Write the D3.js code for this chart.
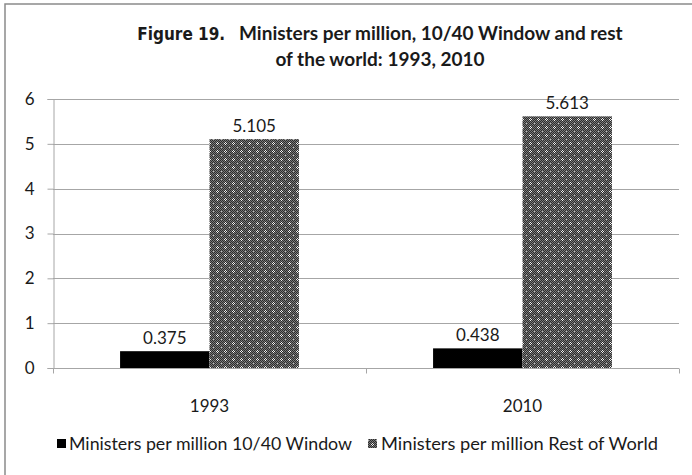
<!DOCTYPE html>
<html>
<head>
<meta charset="utf-8">
<script src="https://cdn.jsdelivr.net/npm/d3@7"></script>
<style>
  html, body { margin: 0; padding: 0; background: #fff; }
  svg { display: block; }
  text { font-family: Lato, "Open Sans", sans-serif; fill: #1a1a1a; }
</style>
</head>
<body>
<svg id="chart" width="692" height="475"></svg>
<script>
// Ministers per million: 10/40 Window vs rest of the world
const years = ["1993", "2010"];
const seriesNames = ["Ministers per million 10/40 Window", "Ministers per million Rest of World"];
const window1040 = [0.375, 0.438];
const restOfWorld = [5.105, 5.613];
const yTicks = [0, 1, 2, 3, 4, 5, 6];

const svg = d3.select("#chart");
const W = 692, H = 475;
const margin = { left: 53, right: 13, top: 99, bottom: 107 };
const plotW = W - margin.left - margin.right;
const plotH = H - margin.top - margin.bottom;
const fs = 17;

// outer frame
svg.append("rect")
  .attr("x", 5).attr("y", 4).attr("width", 720).attr("height", 520)
  .attr("fill", "none").attr("stroke", "#8a8a8a").attr("stroke-width", 1.5);

// fill pattern for the rest-of-world bars
const defs = svg.append("defs");
const pat = defs.append("pattern")
  .attr("id", "dots").attr("patternUnits", "userSpaceOnUse")
  .attr("width", 8).attr("height", 8);
pat.append("rect").attr("width", 8).attr("height", 8).attr("fill", "#7a7a7a");
for (let i = 0; i < 8; i++) {
  for (let j = 0; j < 8; j++) {
    if ((i + j) % 2 === 0) pat.append("rect").attr("x", i).attr("y", j).attr("width", 1).attr("height", 1).attr("fill", "#2c2c2c");
  }
}
[[4, 3], [3, 4], [5, 4], [4, 5]].forEach(([x, y]) => {
  pat.append("rect").attr("x", x).attr("y", y).attr("width", 1).attr("height", 1).attr("fill", "#f0f0f0");
});
[[0, 0]].forEach(([x, y]) => {
  pat.append("rect").attr("x", x).attr("y", y).attr("width", 1).attr("height", 1).attr("fill", "#bdbdbd");
});

const g = svg.append("g").attr("transform", `translate(${margin.left},${margin.top})`);

const y = d3.scaleLinear().domain([0, 6]).range([plotH, 0]);
const x0 = d3.scaleBand().domain(years).range([0, plotW]).paddingInner(0).paddingOuter(0);
const x1 = d3.scaleBand().domain([0, 1]).range([0, x0.bandwidth()]).paddingInner(0).paddingOuter(0.75);

// gridlines
g.append("g").selectAll("line").data(yTicks.filter(d => d > 0)).join("line")
  .attr("x1", 0).attr("x2", plotW)
  .attr("y1", d => Math.round(y(d)) + 0.5).attr("y2", d => Math.round(y(d)) + 0.5)
  .attr("stroke", "#a6a6a6").attr("stroke-width", 1);

// y axis
const yAxis = g.append("g").attr("transform", "translate(0.5,0)")
  .call(d3.axisLeft(y).tickValues(yTicks).tickFormat(d3.format("d")).tickSize(6).tickPadding(13));
yAxis.select(".domain").attr("stroke", "#a6a6a6");
yAxis.selectAll(".tick line").attr("stroke", "#a6a6a6");
yAxis.selectAll(".tick text").attr("font-size", fs).attr("font-family", "Lato, sans-serif").attr("fill", "#1a1a1a");

// bars
const groups = g.selectAll(".yr").data(years).join("g")
  .attr("transform", d => `translate(${x0(d)},0)`);

const rows = years.map((yr, i) => [
  { s: 0, v: window1040[i] },
  { s: 1, v: restOfWorld[i] }
]);

groups.each(function (yr, i) {
  const gg = d3.select(this);
  gg.selectAll("rect").data(rows[i]).join("rect")
    .attr("x", d => x1(d.s))
    .attr("width", x1.bandwidth())
    .attr("y", d => y(d.v))
    .attr("height", d => plotH - y(d.v))
    .attr("fill", d => d.s === 0 ? "#000" : "url(#dots)");
  gg.selectAll("text.val").data(rows[i]).join("text")
    .attr("class", "val")
    .attr("x", d => x1(d.s) + x1.bandwidth() / 2)
    .attr("y", d => y(d.v) - 7)
    .attr("text-anchor", "middle")
    .attr("font-size", fs)
    .text(d => d3.format(".3f")(d.v));
});

// x axis
const xAxis = g.append("g").attr("transform", `translate(0,${plotH + 0.5})`);
xAxis.append("line").attr("x1", 0).attr("x2", plotW).attr("stroke", "#a6a6a6");
xAxis.selectAll("line.tk").data([0, plotW / 2, plotW]).join("line")
  .attr("class", "tk")
  .attr("x1", d => Math.round(d) + 0.5).attr("x2", d => Math.round(d) + 0.5)
  .attr("y1", 0).attr("y2", 5).attr("stroke", "#a6a6a6");
xAxis.selectAll("text").data(years).join("text")
  .attr("x", d => x0(d) + x0.bandwidth() / 2)
  .attr("y", 43)
  .attr("text-anchor", "middle")
  .attr("font-size", fs)
  .text(d => d);

// title
const title = svg.append("text").attr("text-anchor", "middle").attr("font-weight", "bold").attr("font-size", 19);
const l1 = title.append("tspan").attr("x", 380).attr("y", 40);
l1.append("tspan").attr("font-family", "'DejaVu Sans Condensed', sans-serif").attr("font-size", 17).text("Figure 19.");
l1.append("tspan").text("\u00a0\u00a0 Ministers per million, 10/40 Window and rest");
title.append("tspan").attr("x", 380).attr("y", 66).text("of the world: 1993, 2010");

// legend
const legend = svg.append("g");
const legendItems = [
  { name: seriesNames[0], fill: "#000", sx: 57, tx: 69, w: 283 },
  { name: seriesNames[1], fill: "url(#dots)", sx: 368, tx: 381, w: 277 }
];
legendItems.forEach(d => {
  legend.append("rect").attr("x", d.sx).attr("y", 439).attr("width", 9).attr("height", 9).attr("fill", d.fill);
  legend.append("text").attr("x", d.tx).attr("y", 450).attr("font-size", fs)
    .attr("textLength", d.w).attr("lengthAdjust", "spacingAndGlyphs").text(d.name);
});
</script>
</body>
</html>
